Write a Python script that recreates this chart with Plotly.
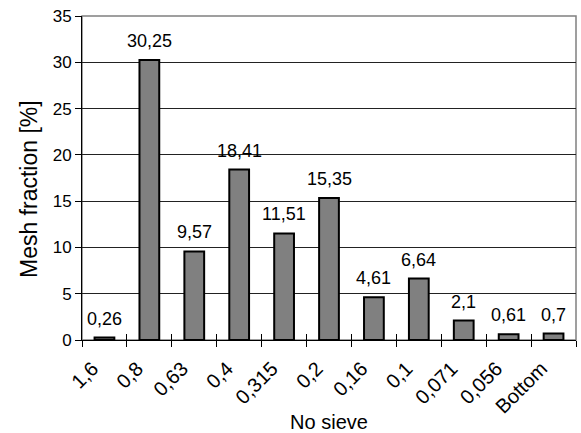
import plotly.graph_objects as go

categories = ["1,6", "0,8", "0,63", "0,4", "0,315", "0,2", "0,16", "0,1", "0,071", "0,056", "Bottom"]
values = [0.26, 30.25, 9.57, 18.41, 11.51, 15.35, 4.61, 6.64, 2.1, 0.61, 0.7]
labels = [str(v).replace(".", ",") for v in values]
y_ticks = [0, 5, 10, 15, 20, 25, 30, 35]

FONT = "Liberation Sans, Arial, sans-serif"

fig = go.Figure()
fig.add_trace(go.Bar(
    x=categories, y=values,
    marker=dict(color="#808080", line=dict(color="black", width=2)),
    width=0.44,
    showlegend=False,
))
# crossing tick marks on the x axis (inner part)
fig.add_trace(go.Scatter(x=[None], y=[None], xaxis="x2", showlegend=False))

for c, v, t in zip(categories, values, labels):
    fig.add_annotation(x=c, y=v, text=t, showarrow=False, yanchor="bottom",
                       yshift=7, font=dict(family=FONT, size=18, color="black"))

# y axis title
fig.add_annotation(xref="paper", yref="paper", x=0, y=0.466, xshift=-53,
                   xanchor="center", yanchor="middle", textangle=-90, showarrow=False,
                   text="Mesh fraction [%]", font=dict(family=FONT, size=23, color="black"))

fig.add_shape(type="rect", xref="paper", yref="paper", x0=0, x1=1, y0=0, y1=1,
              line=dict(color="#808080", width=1.5), layer="below")

fig.update_layout(
    width=581, height=433,
    margin=dict(l=82, r=5, t=16, b=93),
    paper_bgcolor="white", plot_bgcolor="white",
    font=dict(family=FONT, size=18, color="black"),
    bargap=0.5,
    xaxis=dict(
        type="category", categoryarray=categories, range=[-0.5, len(categories) - 0.5],
        tickson="boundaries", ticks="outside", ticklen=6, tickcolor="black", tickwidth=1,
        tickangle=-45, showline=True, linecolor="black", linewidth=1,
        showgrid=False, zeroline=False, automargin=False,
        ticklabelstandoff=8, ticklabelshift=-12,
        title=dict(text="No sieve", font=dict(size=20), standoff=0),
        tickfont=dict(size=20),
    ),
    xaxis2=dict(
        overlaying="x", anchor="y", side="bottom", type="linear",
        range=[-0.5, len(categories) - 0.5],
        tickvals=[i - 0.5 for i in range(len(categories) + 1)],
        ticks="inside", ticklen=6, tickcolor="black", tickwidth=1,
        showticklabels=False, showgrid=False, zeroline=False, showline=False,
    ),
    yaxis=dict(
        range=[0, 35], tickvals=y_ticks, ticks="outside", ticklen=6,
        tickcolor="black", showline=True, linecolor="black", linewidth=1,
        showgrid=True, gridcolor="#222222", gridwidth=1, zeroline=False,
        automargin=False, ticklabeloverflow="allow",
        tickfont=dict(size=17),
    ),
)

fig.write_html("out.html", config={"displayModeBar": False, "staticPlot": True},
               post_script="document.body.style.margin='0px';document.body.style.overflow='hidden';")
